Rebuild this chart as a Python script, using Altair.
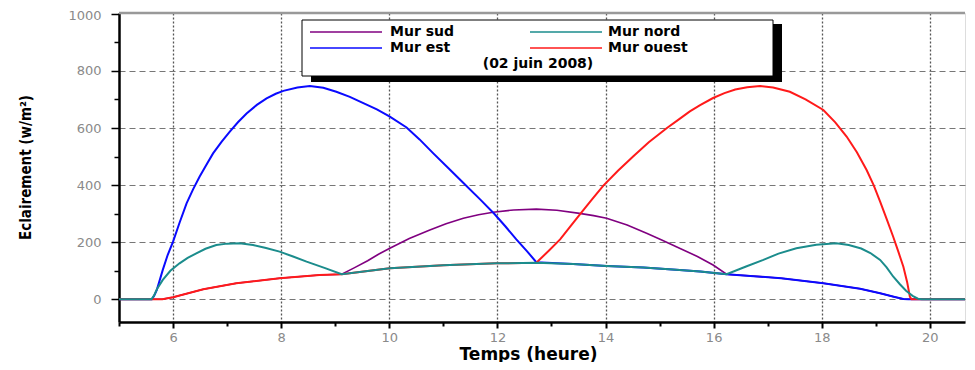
import altair as alt
import pandas as pd

# ---------------- data ----------------
series = ["Mur sud", "Mur nord", "Mur est", "Mur ouest"]
colors = ["#800080", "#1b8c8c", "#0a0aff", "#ff1a1a"]

sud_h = [5.0, 5.8, 6.0, 6.56, 7.17, 7.97, 8.71, 9.12, 9.35, 9.6, 9.8, 10.01, 10.37,
         10.75, 11.05, 11.37, 11.65, 11.92, 12.3, 12.72, 13.1, 13.52, 13.78, 14.02,
         14.4, 14.76, 15.05, 15.37, 15.7, 15.99, 16.24, 17.25, 18.03, 18.71, 19.08,
         19.35, 19.51, 19.6, 20.65]
sud_v = [0, 0, 7, 35, 56, 74, 85, 88, 110, 135, 158, 179, 213,
         243, 265, 284, 296, 305, 313, 316, 312, 301, 293, 284,
         260, 231, 207, 179, 150, 120, 88, 74, 56, 37, 21,
         8, 1, 0, 0]

nord_h = [5.0, 5.6, 5.65, 5.7, 5.81, 5.95, 6.12, 6.27, 6.43, 6.6, 6.8, 7.0, 7.23,
          7.48, 7.72, 7.97, 8.22, 8.47, 8.8, 9.12, 9.6, 10.01, 11.0, 11.98, 12.72,
          13.4, 14.02, 14.7, 15.37, 15.75, 16.24, 16.6, 16.92, 17.2, 17.53, 17.9,
          18.27, 18.5, 18.73, 18.9, 19.08, 19.2, 19.32, 19.45, 19.56, 19.68, 19.78,
          19.85, 20.65]
nord_v = [0, 0, 14, 35, 68, 100, 126, 145, 161, 177, 190, 195, 196,
          190, 180, 167, 150, 132, 110, 88, 99, 109, 119, 126, 128,
          124, 117, 111, 103, 97, 88, 115, 138, 160, 179, 191,
          196, 190, 178, 162, 138, 112, 80, 52, 30, 12, 2,
          0, 0]

est_h = [5.0, 5.61, 5.65, 5.7, 5.81, 5.9, 6.0, 6.12, 6.25, 6.37, 6.49, 6.62, 6.74,
         6.9, 7.05, 7.2, 7.36, 7.55, 7.73, 7.9, 8.04, 8.3, 8.53, 8.78, 9.02, 9.27,
         9.52, 9.77, 10.01, 10.32, 10.56, 10.81, 11.1, 11.4, 11.68, 11.95, 12.15,
         12.35, 12.55, 12.72, 13.4, 14.02, 14.7, 15.37, 15.75, 16.24, 17.25, 18.03,
         18.71, 19.08, 19.35, 19.51, 19.6, 20.65]
est_v = [0, 0, 12, 33, 103, 155, 202, 268, 336, 385, 429, 472, 511,
         552, 587, 620, 651, 681, 704, 720, 730, 742, 747, 741, 727, 709,
         687, 665, 640, 602, 560, 512, 458, 402, 350, 298, 255,
         210, 168, 130, 124, 117, 111, 103, 97, 88, 74, 56,
         37, 21, 8, 1, 0, 0]

ouest_h = [5.0, 5.8, 6.0, 6.56, 7.17, 7.97, 8.71, 9.12, 9.6, 10.01, 11.0, 11.98,
           12.72, 12.95, 13.16, 13.35, 13.53, 13.75, 13.96, 14.23, 14.51, 14.8, 15.13,
           15.37, 15.56, 15.75, 15.99, 16.2, 16.4, 16.62, 16.86, 17.1, 17.41, 17.7,
           18.03, 18.25, 18.46, 18.65, 18.83, 18.96, 19.08, 19.2, 19.32, 19.42, 19.51,
           19.58, 19.63, 19.66, 20.65]
ouest_v = [0, 0, 7, 35, 56, 74, 85, 88, 99, 109, 119, 126,
           128, 170, 210, 255, 298, 350, 398, 450, 500, 550, 599,
           632, 658, 680, 705, 722, 735, 743, 747, 742, 727, 700,
           663, 620, 570, 515, 453, 400, 342, 282, 220, 165, 114,
           60, 9, 0, 0]

date_label = "(02 juin 2008)"
x_ticks = list(range(5, 21))
y_ticks = list(range(0, 1001, 100))

data = {
    "Mur sud": (sud_h, sud_v),
    "Mur nord": (nord_h, nord_v),
    "Mur est": (est_h, est_v),
    "Mur ouest": (ouest_h, ouest_v),
}

# ---------------- layout ----------------
W, H = 846, 309
x_scale = alt.Scale(domain=[5, 20.65], nice=False, zero=False)
y_scale = alt.Scale(domain=[-79.5, 1002.8], nice=False, zero=False)

x_axis = alt.Axis(
    values=x_ticks,
    title="Temps (heure)",
    format="d",
    labelExpr="datum.value % 2 === 0 ? datum.label : ''",
    tickSize={"condition": {"test": "datum.value % 2 === 0", "value": 6}, "value": 4},
    gridOpacity={"condition": {"test": "datum.value % 2 === 0 && datum.value > 5", "value": 1}, "value": 0},
    grid=True, gridColor="#555", gridDash=[2, 2], gridWidth=1.3,
    domainColor="black", domainWidth=2.5, tickColor="black", tickWidth=2,
    labelColor="#8a8a8a", labelFont="DejaVu Sans", labelFontSize=13, labelPadding=3,
    titleFont="DejaVu Sans", titleFontSize=17, titleFontWeight="bold", titleColor="black",
    titleX=409, titleY=37, titleAnchor="middle", titleBaseline="alphabetic",
)
y_axis = alt.Axis(
    values=y_ticks,
    title="Eclairement (w/m²)",
    format="d",
    labelExpr="datum.value % 200 === 0 ? datum.label : ''",
    labelOffset={"condition": {"test": "datum.value === 1000", "value": 2}, "value": 0},
    tickSize={"condition": {"test": "datum.value % 200 === 0", "value": 8}, "value": 5},
    gridOpacity={"condition": {"test": "datum.value % 200 === 0 && datum.value < 1000", "value": 1}, "value": 0},
    grid=True, gridColor="#777", gridDash=[6, 4], gridWidth=1.2,
    domainColor="black", domainWidth=2.5, tickColor="black", tickWidth=1.5,
    labelColor="#8a8a8a", labelFont="DejaVu Sans", labelFontSize=13, labelPadding=10,
    titleFont="DejaVu Sans Condensed, Roboto", titleFontSize=15, titleFontWeight="bold",
    titleColor="black", titleAngle=270, titleX=-94, titleY=154,
    titleAlign="center", titleBaseline="middle",
)

x_enc = alt.X("h:Q", scale=x_scale, axis=x_axis)
y_enc = alt.Y("v:Q", scale=y_scale, axis=y_axis)

widths = {"Mur sud": 1.6, "Mur nord": 2.0, "Mur est": 2.0, "Mur ouest": 2.0}
color_of = dict(zip(series, colors))

layers = []
for name in ["Mur sud", "Mur est", "Mur ouest", "Mur nord"]:
    hs, vs = data[name]
    df = pd.DataFrame({"h": hs, "v": vs, "s": name})
    layers.append(
        alt.Chart(df).mark_line(color=color_of[name], strokeWidth=widths[name])
        .encode(x=x_enc, y=y_enc)
    )

# top frame line
one = pd.DataFrame({"a": [0]})
layers.append(
    alt.Chart(one).mark_rule(color="#999", strokeWidth=2.5)
    .encode(x=alt.value(0), x2=alt.value(W), y=alt.value(0))
)

# legend box with shadow
layers.append(
    alt.Chart(one).mark_rect(color="black")
    .encode(x=alt.value(192), x2=alt.value(663), y=alt.value(11), y2=alt.value(69))
)
layers.append(
    alt.Chart(one).mark_rect(fill="white", stroke="black", strokeWidth=1)
    .encode(x=alt.value(183), x2=alt.value(654), y=alt.value(7), y2=alt.value(63))
)
for i, name in enumerate(series):
    col, row = i % 2, i // 2
    x0 = 191 + col * 220
    yy = 19 + row * 16
    layers.append(
        alt.Chart(one).mark_rule(color=color_of[name], strokeWidth=1.5)
        .encode(x=alt.value(x0), x2=alt.value(x0 + 72), y=alt.value(yy))
    )
    layers.append(
        alt.Chart(one).mark_text(align="left", baseline="middle", font="DejaVu Sans",
                                 fontSize=14, fontWeight="bold", color="black")
        .encode(x=alt.value(x0 + 80 - col * 2), y=alt.value(yy), text=alt.value(name))
    )
layers.append(
    alt.Chart(one).mark_text(align="center", baseline="middle", font="DejaVu Sans",
                             fontSize=14, fontWeight="bold", color="black")
    .encode(x=alt.value(419), y=alt.value(51), text=alt.value(date_label))
)

chart = alt.layer(*layers).properties(
    width=W, height=H,
    autosize=alt.AutoSizeParams(type="none"),
    padding={"left": 111, "top": 5, "right": 2, "bottom": 40},
).configure_view(stroke=None).configure(background="white")

chart.save("out.html", embed_options={"renderer": "svg", "actions": False})
